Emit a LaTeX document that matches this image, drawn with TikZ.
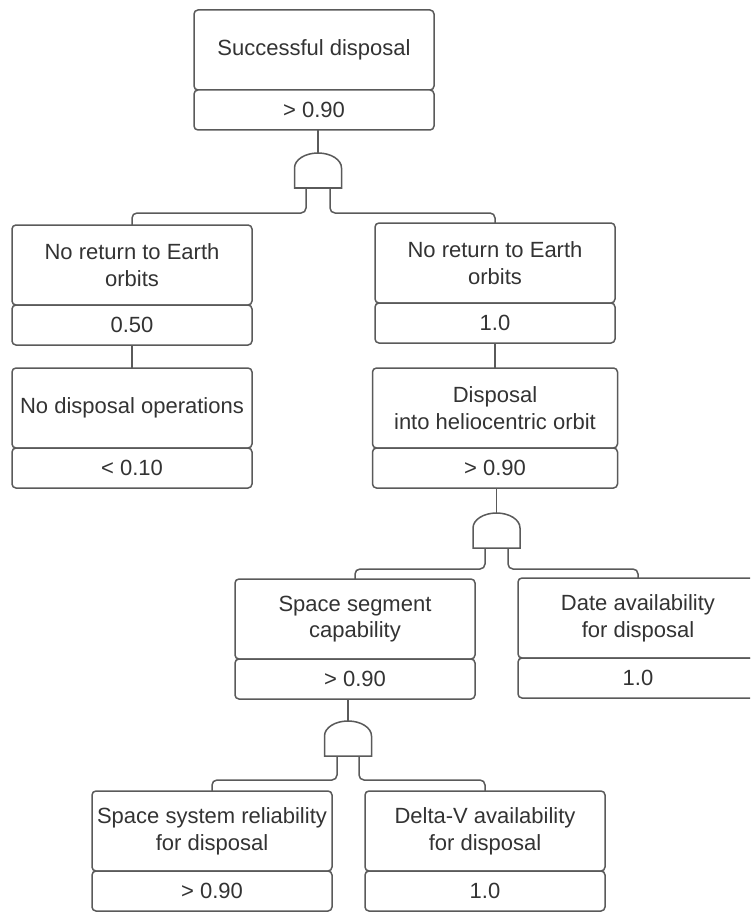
\documentclass[tikz,border=0pt]{standalone}
\usepackage{fontspec}
\setmainfont{Liberation Sans}
\usetikzlibrary{positioning}
\definecolor{linegray}{HTML}{5A5A5A}
\definecolor{textgray}{HTML}{333333}
\tikzset{
    event/.style={draw=linegray, line width=1.5pt, rounded corners=4pt, fill=white,
        text=textgray, align=center, minimum width=240pt, minimum height=80pt,
        inner sep=2pt, outer sep=0pt, font=\fontsize{22}{26.7}\selectfont},
    prob/.style={event, minimum height=40pt},
    wire/.style={draw=linegray, line width=1.5pt, rounded corners=5pt},
    gateline/.style={draw=linegray, line width=1.5pt, fill=white},
    andgate/.style={minimum width=47pt, minimum height=35pt, inner sep=0pt, outer sep=0pt}
}
\begin{document}
\begin{tikzpicture}[x=1pt, y=1pt]
    % 1. Vùng hiển thị
    \useasboundingbox (0,0) rectangle (750,-912);
    \clip (0,0) rectangle (750,-912);

    % 2. Sự kiện đỉnh
    \node[event, anchor=north] (top) at (314,-10) {Successful disposal};
    \node[prob, below=0pt of top] (topv) {> 0.90};

    % 3. Nhánh trái
    \node[event, anchor=north] (nr1) at (132,-225) {No return to Earth\\orbits};
    \node[prob, below=0pt of nr1] (nr1v) {0.50};
    \node[event, anchor=north] (nd) at (132,-368) {No disposal operations};
    \node[prob, below=0pt of nd] (ndv) {< 0.10};

    % 4. Nhánh phải
    \node[event, anchor=north] (nr2) at (495,-223) {No return to Earth\\orbits};
    \node[prob, below=0pt of nr2] (nr2v) {1.0};
    \node[event, anchor=north, minimum width=245pt] (helio) at (495,-368) {Disposal\\into heliocentric orbit};
    \node[prob, below=0pt of helio, minimum width=245pt] (heliov) {> 0.90};

    % 5. Tầng dưới
    \node[event, anchor=north] (seg) at (355,-579) {Space segment\\capability};
    \node[prob, below=0pt of seg] (segv) {> 0.90};
    \node[event, anchor=north] (date) at (638,-578) {Date availability\\for disposal};
    \node[prob, below=0pt of date] (datev) {1.0};
    \node[event, anchor=north] (rel) at (212,-791) {Space system reliability\\for disposal};
    \node[prob, below=0pt of rel] (relv) {> 0.90};
    \node[event, anchor=north] (dv) at (485,-791) {Delta-V availability\\for disposal};
    \node[prob, below=0pt of dv] (dvv) {1.0};

    % 6. Cổng AND
    \node[andgate, anchor=north] (g1) at (318,-153) {};
    \node[andgate, anchor=north] (g2) at (496.5,-513) {};
    \node[andgate, anchor=north] (g3) at (348,-721) {};
    \foreach \g in {g1,g2,g3}
        \draw[gateline] (\g.south west) -- ++(0,20)
            arc[start angle=180, end angle=0, x radius=23.5pt, y radius=15pt]
            -- (\g.south east) -- cycle;

    % 7. Đường nối
    \draw[wire] (topv.south -| g1.north) -- (g1.north);
    \draw[wire] ([xshift=-12pt]g1.south) -- ++(0,-25) -| (nr1.north);
    \draw[wire] ([xshift=12pt]g1.south) -- ++(0,-25) -| (nr2.north);
    \draw[wire] (nr1v) -- (nd);
    \draw[wire] (nr2v) -- (helio);

    \draw[wire] (heliov.south -| g2.north) -- (g2.north);
    \draw[wire] ([xshift=-11.5pt]g2.south) -- ++(0,-21) -| (seg.north);
    \draw[wire] ([xshift=11.5pt]g2.south) -- ++(0,-21) -| (date.north);

    \draw[wire] (segv.south -| g3.north) -- (g3.north);
    \draw[wire] ([xshift=-11pt]g3.south) -- ++(0,-24) -| (rel.north);
    \draw[wire] ([xshift=11pt]g3.south) -- ++(0,-24) -| (dv.north);
\end{tikzpicture}
\end{document}
